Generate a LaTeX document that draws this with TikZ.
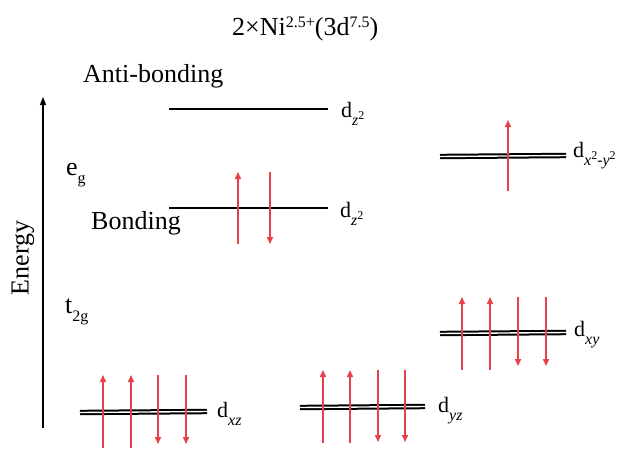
\documentclass[tikz,border=0pt]{standalone}
\usepackage{fontspec}
\setmainfont{Liberation Serif}
\usetikzlibrary{arrows.meta,positioning}
\definecolor{spinred}{RGB}{232,64,74}
\newcommand{\lsub}[1]{\raisebox{-8pt}{\fontsize{16}{16}\selectfont #1}}
\newcommand{\hsup}[1]{\raisebox{8pt}{\fontsize{16}{16}\selectfont #1}}
\newcommand{\tsq}[1]{\itshape #1\raisebox{6pt}{\fontsize{12}{12}\selectfont\upshape 2}}

\begin{document}
\begin{tikzpicture}[x=1pt, y=-1pt,
  every node/.style={font=\fontsize{26}{30}\selectfont, inner sep=0pt, anchor=base west},
  level/.style={line width=2.5pt},
  dlevel/.style={draw=black, line width=2pt, double=white, double distance=1.4pt},
  spin/.style={-{Triangle[length=7pt,width=6pt]}, spinred, line width=1.5pt},
  orb/.style={font=\fontsize{22}{26}\selectfont},
]
\useasboundingbox (0,0) rectangle (623,450);

%% ── Title and axis ────────────────────────────────────────────────────────
\node (title) at (232,35) {2×Ni\hsup{2.5+}(3d\hsup{7.5})};
\coordinate (ebot) at (43,428);
\coordinate (etop) at (43,97);
\draw[-{Triangle[length=8pt,width=6pt]}, line width=1.3pt] (ebot) -- (etop);
\node[rotate=90, anchor=center] (energy) at (23,258) {Energy};
\node (eg) at (66,175) {e\lsub{g}};
\node (tg) at (65,313) {t\lsub{2g}};

%% ── e_g levels ────────────────────────────────────────────────────────────
\coordinate (abL) at (169,109);
\coordinate (abR) at (328,109);
\draw[level] (abL) -- (abR);
\node (abtxt) at (83,82) {Anti-bonding};
\node[orb] (dz2a) at (341,117) {d\lsub{\tsq{z}}};

\coordinate (bL) at (169,208);
\coordinate (bR) at (328,208);
\draw[level] (bL) -- (bR);
\node (btxt) at (91,229) {Bonding};
\node[orb] (dz2b) at (340,217) {d\lsub{\tsq{z}}};
\draw[spin] (238,244) -- (238,172);
\draw[spin] (270,172) -- (270,244);

\coordinate (xyL) at (440,156.5);
\coordinate (xyR) at (566,155.5);
\draw[dlevel] (xyL) -- (xyR);
\node[orb] (dx2y2) at (573,157) {d\lsub{\tsq{x}\upshape-\tsq{y}}};
\draw[spin] (508,191) -- (508,120);

%% ── t_2g levels ───────────────────────────────────────────────────────────
\coordinate (dxyL) at (440,333.5);
\coordinate (dxyR) at (566,332.5);
\draw[dlevel] (dxyL) -- (dxyR);
\node[orb] (dxy) at (574,336) {d\lsub{\itshape xy}};
\foreach \x in {462,490} \draw[spin] (\x,370) -- (\x,297);
\foreach \x in {518,546} \draw[spin] (\x,297) -- (\x,366);

\coordinate (dyzL) at (300,407.5);
\coordinate (dyzR) at (425,406.5);
\draw[dlevel] (dyzL) -- (dyzR);
\node[orb] (dyz) at (438,412) {d\lsub{\itshape yz}};
\foreach \x in {323,350} \draw[spin] (\x,443) -- (\x,370);
\foreach \x in {378,405} \draw[spin] (\x,370) -- (\x,442);

\coordinate (dxzL) at (80,412.5);
\coordinate (dxzR) at (207,411.5);
\draw[dlevel] (dxzL) -- (dxzR);
\node[orb] (dxz) at (217,417) {d\lsub{\itshape xz}};
\foreach \x in {103,131} \draw[spin] (\x,448) -- (\x,375);
\foreach \x in {158,186} \draw[spin] (\x,375) -- (\x,444);

\end{tikzpicture}
\end{document}
